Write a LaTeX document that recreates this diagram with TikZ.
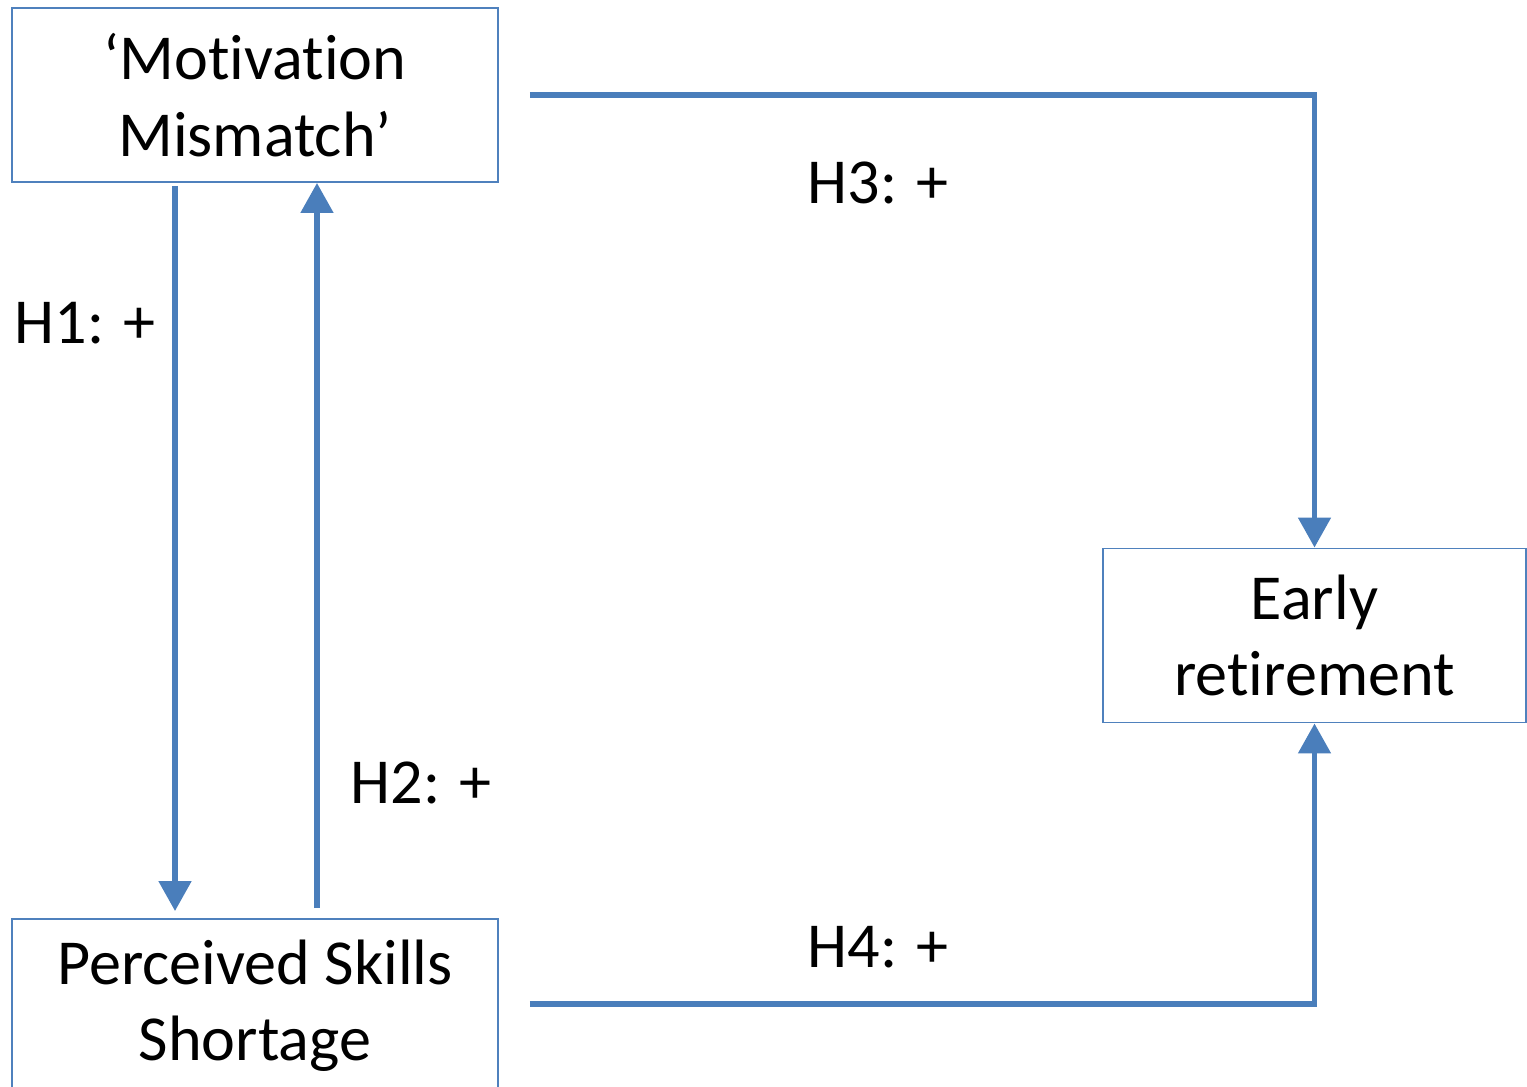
\documentclass[tikz,border=0pt]{standalone}
\usepackage{fontspec}
\setmainfont[Ligatures=NoCommon]{Carlito}
\usetikzlibrary{arrows.meta,positioning}
\definecolor{lineblue}{HTML}{4A7EBB}
\definecolor{boxblue}{HTML}{4F81BD}

\begin{document}
\begin{tikzpicture}[x=0.02cm,y=-0.02cm]
	\tikzstyle{box}=[draw=boxblue,line width=1.1pt,minimum width=9.72cm,minimum height=3.48cm,align=center,font=\fontsize{36.5}{43.5}\selectfont]
	\tikzstyle{link}=[draw=lineblue,line width=3.2pt,-{Triangle[width=18pt,length=17pt]}]
	\tikzstyle{lbl}=[font=\fontsize{36.5}{43.5}\selectfont]

	\useasboundingbox (0,0) rectangle (1527,1086);

	\node [box] (mm)							at (255,95)			{`Motivation\\Mismatch'};
	\node [box] (pss)							at (255,1006)		{Perceived Skills\\Shortage};
	\node [box,minimum width=8.46cm] (er)	at (1314.5,635.5)	{Early\\retirement};

	\node [lbl] (h1) at (85,323)	{H1: +};
	\node [lbl] (h2) at (421,783)	{H2: +};
	\node [lbl] (h3) at (878,183)	{H3: +};
	\node [lbl] (h4) at (878,947)	{H4: +};

	\draw [link] ([xshift=-1.6cm,yshift=-0.06cm]mm.south) -- ([xshift=-1.6cm,yshift=0.14cm]pss.north);
	\draw [link] ([xshift=1.24cm,yshift=0.2cm]pss.north) -- ([xshift=1.24cm]mm.south);
	\draw [link] ([xshift=0.62cm]mm.east) -| (er.north);
	\draw [link] ([xshift=0.62cm,yshift=0.04cm]pss.east) -| (er.south);
\end{tikzpicture}
\end{document}
